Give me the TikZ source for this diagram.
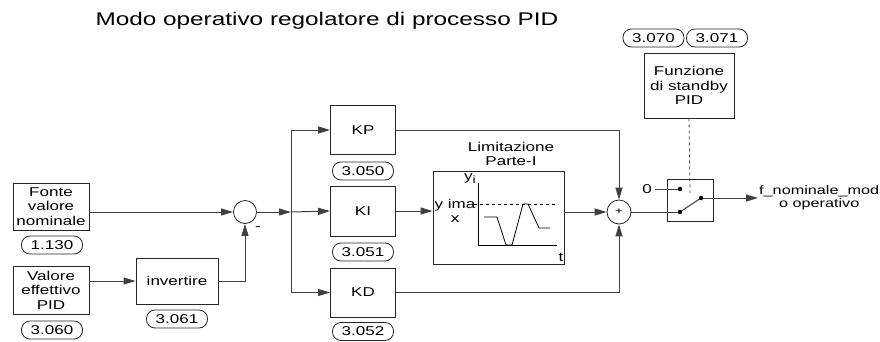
\documentclass[tikz,border=0pt]{standalone}
\usepackage{fontspec}
\setmainfont{Liberation Sans}[FakeStretch=1.33]
\usetikzlibrary{arrows.meta}

\newcommand{\lblsize}{\fontsize{12.8}{14.5}\selectfont}

\begin{document}
\begin{tikzpicture}[x=1pt, y=-1pt, >={Triangle[length=12pt,width=7pt]},
    blk/.style={draw=black!85, line width=0.8pt, inner sep=0pt, align=center, font=\lblsize},
    parbox/.style={draw=black!85, line width=0.8pt, rounded corners=8.5pt, minimum width=61pt, minimum height=18pt, inner sep=0pt, font=\lblsize},
    wire/.style={line width=1pt, draw=black!75},
    sumnode/.style={draw=black!85, circle, line width=0.8pt, inner sep=0pt, minimum size=23pt}]
    \useasboundingbox (0,0) rectangle (880,341);

    \node[anchor=west, font=\fontsize{18.3}{21}\selectfont] (title) at (92,21) {Modo operativo regolatore di processo PID};

    % inputs
    \node[blk, minimum width=76pt, minimum height=47pt] (fonte) at (51,206.5) {Fonte\\valore\\nominale};
    \node[parbox] (p1130) at (52,245) {1.130};
    \node[blk, minimum width=76pt, minimum height=48pt] (valore) at (51,290) {Valore\\effettivo\\PID};
    \node[parbox] (p3060) at (52,330) {3.060};
    \node[blk, minimum width=82pt, minimum height=46pt] (inv) at (177,281) {invertire};
    \node[parbox] (p3061) at (177,319) {3.061};
    \node[sumnode] (sum1) at (245,212) {};
    \node[font=\lblsize] (minus) at (258,229) {-};
    \coordinate (split) at (291,212);

    % P, I, D
    \node[blk, minimum width=65pt, minimum height=49pt] (kp) at (363,130) {KP};
    \node[parbox] (p3050) at (363,171) {3.050};
    \node[blk, minimum width=65pt, minimum height=50pt] (ki) at (363,211) {KI};
    \node[parbox] (p3051) at (363,252) {3.051};
    \node[blk, minimum width=65pt, minimum height=49pt] (kd) at (363,292.5) {KD};
    \node[parbox] (p3052) at (363,331.5) {3.052};

    % I limit
    \node[blk, minimum width=131pt, minimum height=93pt] (lim) at (498.5,217.5) {};
    \node[align=center, font=\lblsize] (limlab) at (511,154) {Limitazione\\Parte-I};
    \draw[line width=0.8pt] (478,183) -- (478,245) -- (557,245);
    \draw[dashed, line width=0.7pt] (474,204) -- (557,204);
    \draw[line width=0.8pt] (484,217) -- (497,217) -- (506,245) -- (512,245) -- (523,204) -- (528,204) -- (539,228) -- (550,228);
    \node[font=\lblsize] (yi) at (470,179) {y\raisebox{-3pt}{\fontsize{10.5}{10.5}\selectfont i}};
    \node[align=center, font=\lblsize] (ymax) at (455,211) {y ima\\x};
    \node[font=\lblsize] (tlab) at (561,257) {t};

    % output side
    \node[sumnode, minimum size=24pt] (sum2) at (619,212) {\fontsize{10}{10}\selectfont +};
    \node[blk, minimum width=46pt, minimum height=42pt] (sw) at (690,200) {};
    \node[font=\lblsize] (zero) at (647,189) {0};
    \coordinate (c0) at (680,189);
    \coordinate (c1) at (680,212);
    \coordinate (c2) at (701,198);
    \coordinate (lever) at (690,193);
    \node[blk, minimum width=90pt, minimum height=65pt] (standby) at (689,85.5) {Funzione\\di standby\\PID};
    \node[parbox] (p3070) at (653.5,38) {3.070};
    \node[parbox] (p3071) at (717,38) {3.071};
    \node[align=center, anchor=west, inner sep=1pt, font=\fontsize{12.2}{13.5}\selectfont] (out) at (758,198) {f\_nominale\_mod\\o operativo};

    % wires
    \draw[wire,->] (fonte.east |- sum1) -- (sum1.west);
    \draw[wire,->] (valore.east |- inv) -- (inv.west);
    \draw[wire,->] (inv.east) -| (sum1.south);
    \draw[wire,->] (sum1.east) -- (split);
    \draw[wire] (split |- kp) -- (split |- kd);
    \draw[wire,->] (split |- kp) -- (kp.west);
    \draw[wire,->] (split) -- (ki.west);
    \draw[wire,->] (split |- kd) -- (kd.west);
    \draw[wire,->] (kp.east) -| (sum2.north);
    \draw[wire,->] (ki.east) -- (ki.east -| lim.west);
    \draw[wire,->] (lim.east |- sum2) -- (sum2.west);
    \draw[wire,->] (kd.east) -| (sum2.south);
    \draw[wire] (sum2.east) -- (c1);
    \draw[wire] (zero.east) -- (c0);
    \draw[wire] (c1) -- (c2);
    \draw[wire,->] (c2) -- (out.west);
    \draw[dashed, line width=0.8pt, black!75] (standby.south) -- (lever);
    \fill (c0) circle (2.2pt);
    \fill (c1) circle (2.2pt);
    \fill (c2) circle (2.2pt);
\end{tikzpicture}
\end{document}
